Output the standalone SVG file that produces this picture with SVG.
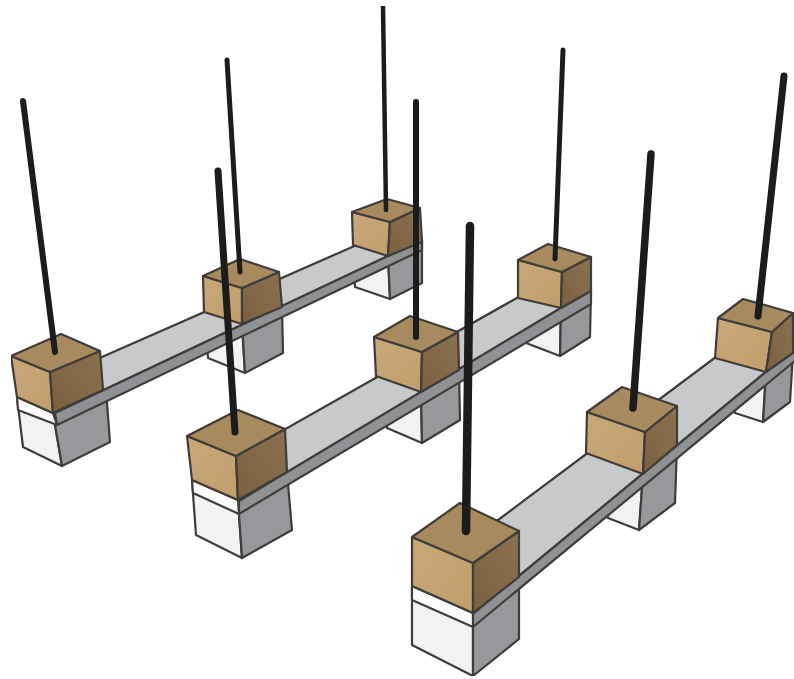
<svg xmlns="http://www.w3.org/2000/svg" width="794" height="679" viewBox="0 0 794 679">
<style>
polygon{stroke:#3f3d39;stroke-width:2.2;stroke-linejoin:round}
.t{fill:#a88a5f}
.f{fill:url(#gf)}
.r{fill:url(#gr)}
.w{fill:#f1f2f4}
.b{fill:#fdfdfd}
.g{fill:#97989b}
.s{fill:#c8c9cb}
.m{fill:#8f9195}
.p{stroke:#1b1b1c;stroke-linecap:round;fill:none}
</style>
<defs>
<linearGradient id="gf" x1="0" y1="0" x2="1" y2="1"><stop offset="0" stop-color="#c9a878"/><stop offset="1" stop-color="#c09e6c"/></linearGradient>
<linearGradient id="gr" x1="0" y1="1" x2="1" y2="0"><stop offset="0" stop-color="#7a6040"/><stop offset="1" stop-color="#8b7150"/></linearGradient>
<filter id="soft" x="0" y="0" width="1" height="1"><feGaussianBlur stdDeviation="0.7"/></filter>
</defs>
<rect width="794" height="679" fill="#fff"/>
<g filter="url(#soft)">
<g id="row1">
<polygon class="w" points="353,245 388,256 390,299 355,287"/>
<polygon class="g" points="388,256 422,240 422,283 390,299"/>
<polygon class="w" points="204,312 242,324 245,373 208,358"/>
<polygon class="g" points="242,324 282,307 283,353 245,373"/>
<polygon class="w" points="17,397 53,413 62,466 23,447"/>
<polygon class="g" points="53,413 106,390 110,442 62,466"/>
<polygon class="b" points="17,397 53,413 57,425 18,410"/>
<polygon class="s" points="55,413 422,240 400,226 70,371"/>
<polygon class="m" points="55,413 422,240 422,250 57,425"/>
<g id="r1c3"><polygon class="f" points="352,212 390,222 388,256 353,245"/><polygon class="r" points="390,222 420,208 422,242 388,256"/><polygon class="t" points="387,199 420,208 390,222 352,212"/></g>
<g id="r1c2"><polygon class="f" points="203,276 242,288 242,324 204,312"/><polygon class="r" points="242,288 279,272 282,307 242,324"/><polygon class="t" points="240,259 279,272 242,288 203,276"/></g>
<g id="r1c1"><polygon class="f" points="11,356 50,372 53,413 17,397"/><polygon class="r" points="50,372 100,351 103,390 53,413"/><polygon class="t" points="61,334 100,351 50,372 11,356"/></g>
<line class="p" x1="386" y1="210" x2="383" y2="6" stroke-width="4.5"/>
<line class="p" x1="240" y1="272" x2="227" y2="60" stroke-width="5"/>
<line class="p" x1="55" y1="352" x2="23" y2="101" stroke-width="6"/>
</g>
<g id="row2">
<polygon class="w" points="518,298 561,308 560,356 526,343"/>
<polygon class="g" points="561,308 591,291 590,337 560,356"/>
<polygon class="w" points="376,376 421,392 422,443 387,428"/>
<polygon class="g" points="421,392 459,370 460,420 422,443"/>
<polygon class="w" points="192,480 238,500 242,558 196,535"/>
<polygon class="g" points="238,500 287,472 292,530 242,558"/>
<polygon class="b" points="192,480 238,500 239,514 193,493"/>
<polygon class="s" points="239,501 591,290 545,282 250,449"/>
<polygon class="m" points="239,501 591,290 591,304 239,514"/>
<g id="r2c3"><polygon class="f" points="518,260 562,272 561,308 518,298"/><polygon class="r" points="562,272 591,257 591,291 561,308"/><polygon class="t" points="548,244 591,257 562,272 518,260"/></g>
<g id="r2c2"><polygon class="f" points="374,337 422,352 421,392 376,376"/><polygon class="r" points="422,352 458,332 459,370 421,392"/><polygon class="t" points="410,316 458,332 422,352 374,337"/></g>
<g id="r2c1"><polygon class="f" points="187,436 236,456 238,500 192,480"/><polygon class="r" points="236,456 285,429 287,472 238,500"/><polygon class="t" points="238,410 285,429 236,456 187,436"/></g>
<line class="p" x1="555" y1="259" x2="563" y2="50" stroke-width="5"/>
<line class="p" x1="416" y1="337" x2="416" y2="102" stroke-width="6"/>
<line class="p" x1="235" y1="432" x2="218" y2="171" stroke-width="7"/>
</g>
<g id="row3">
<polygon class="w" points="715,358 766,372 763,422 735,413"/>
<polygon class="g" points="766,372 793,353 790,402 763,422"/>
<polygon class="w" points="586,453 643,474 639,530 608,518"/>
<polygon class="g" points="643,474 677,445 675,503 639,530"/>
<polygon class="w" points="412,586 473,613 473,676 412,645"/>
<polygon class="g" points="473,613 519,577 519,639 473,676"/>
<polygon class="b" points="412,586 473,613 473,627 412,600"/>
<polygon class="s" points="473,614 796,347 760,324 490,526"/>
<polygon class="m" points="473,614 796,347 796,360 473,627"/>
<g id="r3c3"><polygon class="f" points="718,318 772,332 766,372 715,358"/><polygon class="r" points="772,332 793,313 793,353 766,372"/><polygon class="t" points="743,299 793,313 772,332 718,318"/></g>
<g id="r3c2"><polygon class="f" points="587,412 645,432 643,474 586,453"/><polygon class="r" points="645,432 677,406 677,445 643,474"/><polygon class="t" points="622,387 677,406 645,432 587,412"/></g>
<g id="r3c1"><polygon class="f" points="412,537 473,563 473,613 412,586"/><polygon class="r" points="473,563 519,531 519,577 473,613"/><polygon class="t" points="460,503 519,531 473,563 412,537"/></g>
<line class="p" x1="758" y1="316" x2="784" y2="76" stroke-width="7"/>
<line class="p" x1="633" y1="408" x2="651" y2="154" stroke-width="7.5"/>
<line class="p" x1="466" y1="531" x2="470" y2="226" stroke-width="8.5"/>
</g>
</g>
</svg>
